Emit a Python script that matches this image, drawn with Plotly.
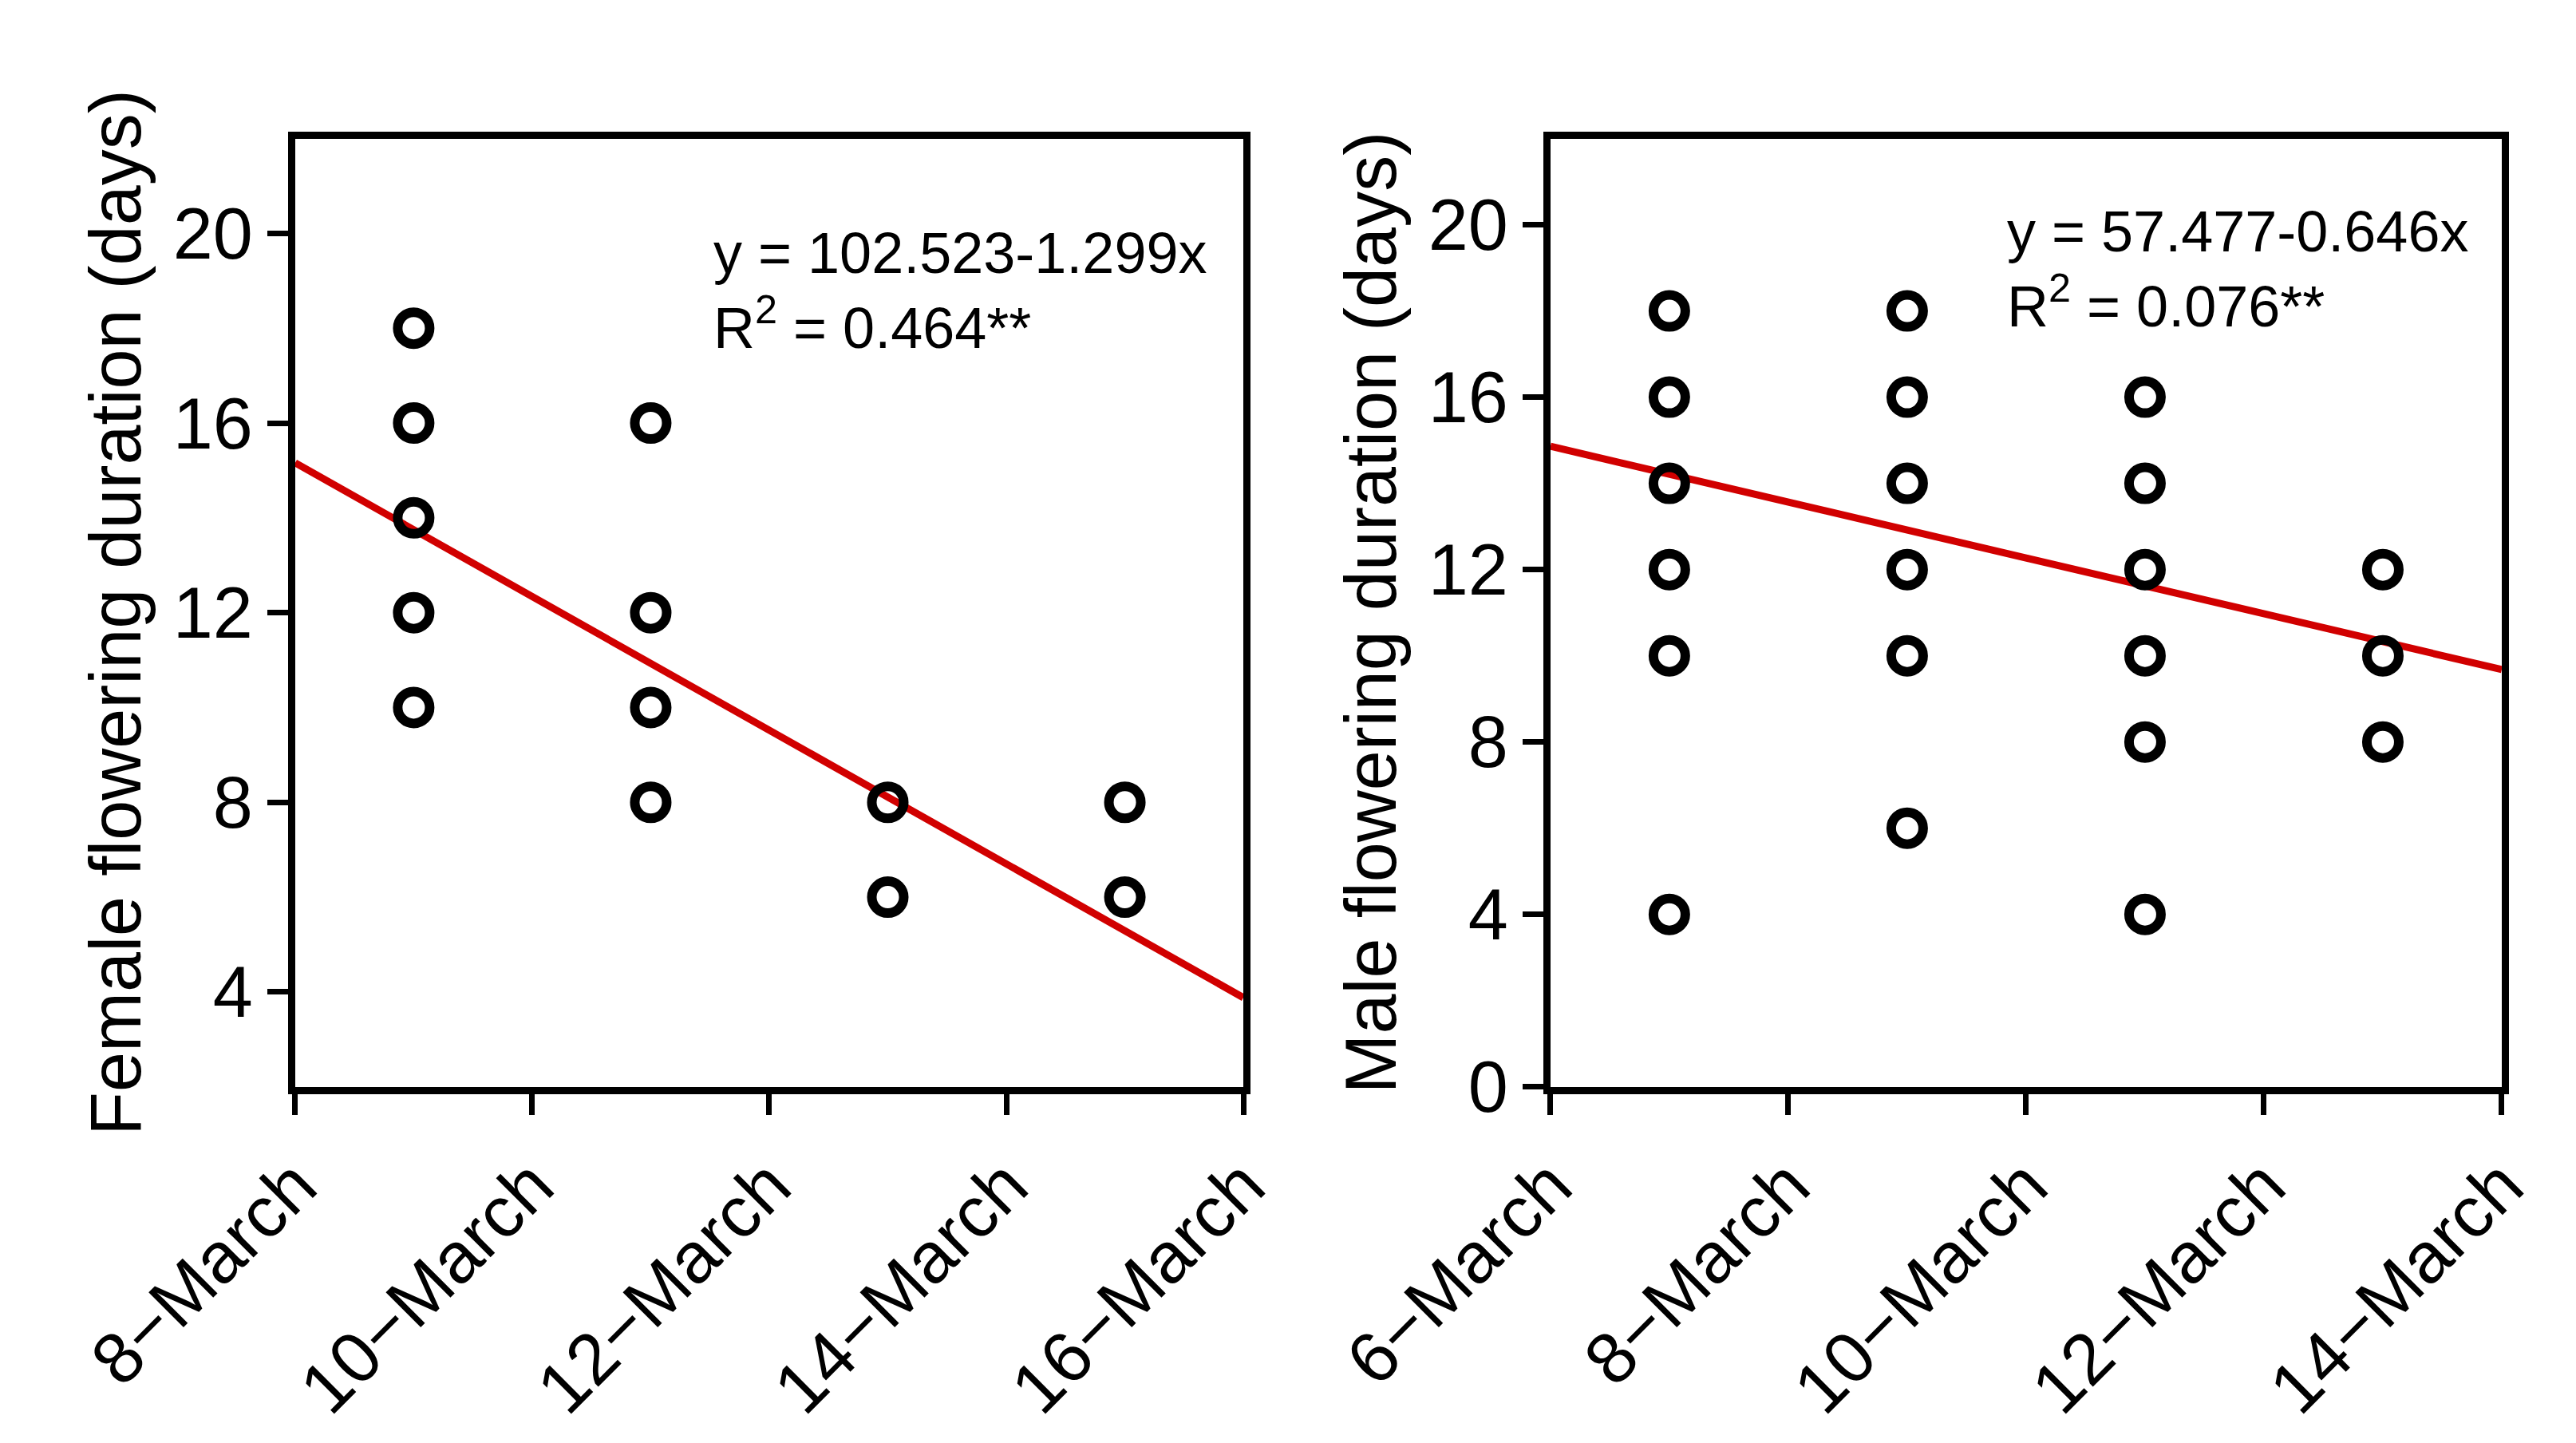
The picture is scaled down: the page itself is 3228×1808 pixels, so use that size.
import plotly.graph_objects as go
from plotly.subplots import make_subplots

# Female panel (x = day in March)
female_day = [9, 9, 9, 9, 9, 11, 11, 11, 11, 13, 13, 15, 15]
female_dur = [18, 16, 14, 12, 10, 16, 12, 10, 8, 8, 6, 8, 6]
female_fit_day = [8, 16]
female_fit_dur = [15.16, 3.88]
female_ticks = [8, 10, 12, 14, 16]
female_labels = ["8\u2212March", "10\u2212March", "12\u2212March", "14\u2212March", "16\u2212March"]

# Male panel
male_day = [7, 7, 7, 7, 7, 7, 9, 9, 9, 9, 9, 9, 11, 11, 11, 11, 11, 11, 13, 13, 13]
male_dur = [18, 16, 14, 12, 10, 4, 18, 16, 14, 12, 10, 6, 16, 14, 12, 10, 8, 4, 12, 10, 8]
male_fit_day = [6, 14]
male_fit_dur = [14.86, 9.68]
male_ticks = [6, 8, 10, 12, 14]
male_labels = ["6\u2212March", "8\u2212March", "10\u2212March", "12\u2212March", "14\u2212March"]

FONT = "Liberation Sans, Arial, sans-serif"
RED = "#D10000"

fig = make_subplots(rows=1, cols=2)

for col, (dx, dy, fx, fy) in enumerate([
    (female_day, female_dur, female_fit_day, female_fit_dur),
    (male_day, male_dur, male_fit_day, male_fit_dur),
], start=1):
    fig.add_trace(go.Scatter(x=fx, y=fy, mode="lines",
                             line=dict(color=RED, width=9), showlegend=False),
                  row=1, col=col)
    fig.add_trace(go.Scatter(x=dx, y=dy, mode="markers",
                             marker=dict(symbol="circle-open", size=40, color="black",
                                         line=dict(width=12, color="black")),
                             showlegend=False),
                  row=1, col=col)

axis_common = dict(showline=True, linecolor="black", linewidth=9, mirror=True,
                   ticks="outside", ticklen=26, tickwidth=7, tickcolor="black",
                   showgrid=False, zeroline=False, automargin=False,
                   tickfont=dict(family=FONT, size=90, color="black"))

fig.update_xaxes(**axis_common)
fig.update_yaxes(**axis_common)

fig.update_xaxes(domain=[0.1121, 0.4802], range=[8, 16], tickvals=female_ticks,
                 ticktext=female_labels, tickangle=-45, row=1, col=1)
fig.update_xaxes(domain=[0.5994, 0.9687], range=[6, 14], tickvals=male_ticks,
                 ticktext=male_labels, tickangle=-45, row=1, col=2)
fig.update_yaxes(domain=[0.2513, 0.9084], range=[2, 22], tickvals=[4, 8, 12, 16, 20],
                 title=dict(text="Female flowering duration (days)", standoff=14,
                            font=dict(family=FONT, size=90, color="black")),
                 row=1, col=1)
fig.update_yaxes(domain=[0.2513, 0.9084], range=[0, 22], tickvals=[0, 4, 8, 12, 16, 20],
                 title=dict(text="Male flowering duration (days)", standoff=14,
                            font=dict(family=FONT, size=90, color="black")),
                 row=1, col=2)

fig.add_annotation(x=0.274, y=0.803, xref="paper", yref="paper", xanchor="left", yanchor="middle",
                   text="y = 102.523-1.299x<br>R<sup>2</sup> = 0.464**", align="left",
                   showarrow=False, font=dict(family=FONT, size=72, color="black"))
fig.add_annotation(x=0.776, y=0.818, xref="paper", yref="paper", xanchor="left", yanchor="middle",
                   text="y = 57.477-0.646x<br>R<sup>2</sup> = 0.076**", align="left",
                   showarrow=False, font=dict(family=FONT, size=72, color="black"))

fig.update_layout(width=3228, height=1808, margin=dict(l=0, r=0, t=0, b=0),
                  plot_bgcolor="white", paper_bgcolor="white")

fig.write_html("out.html")
